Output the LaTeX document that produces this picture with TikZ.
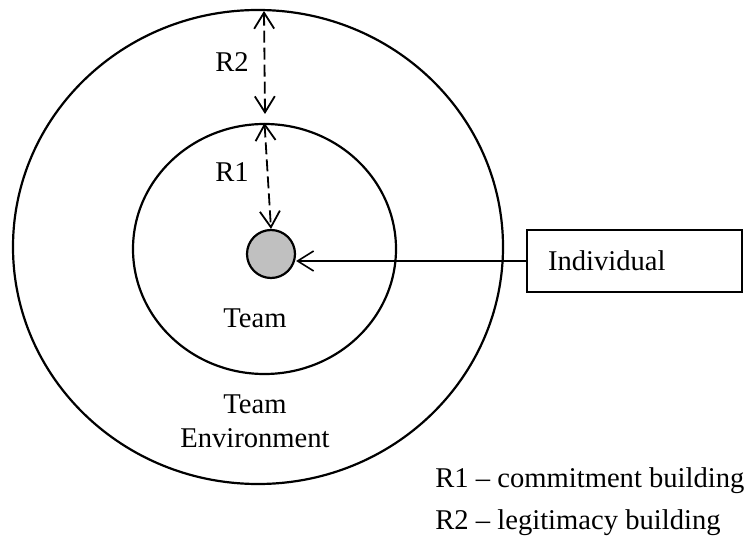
\documentclass[tikz,border=0pt]{standalone}
\usepackage{fontspec}
\setmainfont{Liberation Serif}
\usetikzlibrary{shapes.geometric,arrows.meta}
\definecolor{coregray}{HTML}{C0C0C0}
\begin{document}
\begin{tikzpicture}[x=0.5pt,y=-0.5pt,
  every node/.style={font=\fontsize{14.3}{17}\selectfont},
  ring/.style={draw, ellipse, line width=1.1pt, inner sep=0pt},
  txt/.style={inner sep=0pt, anchor=base west},
  ctxt/.style={inner sep=0pt, anchor=base},
  barb/.tip={Straight Barb[length=8pt,width=10pt]},
  gap/.style={dash pattern=on 6pt off 2.5pt, line width=0.9pt, barb-barb},
  feed/.style={line width=0.8pt, -barb}]
\useasboundingbox (0,0) rectangle (744,545);

% nested regions
\node[ring, minimum width=245pt, minimum height=237pt] (outer) at (258,247) {};
\node[ring, minimum width=131.5pt, minimum height=125pt] (inner) at (264.5,249) {};
\node[circle, draw, fill=coregray, line width=1.1pt, minimum size=24pt, inner sep=0pt] (ind) at (271,254) {};

% individual box
\node[draw, line width=1.1pt, minimum height=31pt, text width=86.5pt,
      inner xsep=10.5pt, align=left] (indbox) at (634.5,261) {Individual};

% relationship distances
\coordinate (r2top) at (264,11);
\coordinate (r2bot) at (265,114);
\draw[gap] (r2top) -- (r2bot);
\draw[gap] (inner.north) -- (ind.north);
\draw[feed] (indbox.west) -- (indbox.west -| ind.east);

% labels
\node[txt] (lr2) at (215,72) {R2};
\node[txt] (lr1) at (215,182) {R1};
\node[ctxt] (team) at (255,328) {Team};
\node[ctxt] (env1) at (255,413) {Team};
\node[ctxt] (env2) at (255,447) {Environment};
\node[txt] (key1) at (435,487) {R1 – commitment building};
\node[txt] (key2) at (435,529) {R2 – legitimacy building};
\end{tikzpicture}
\end{document}
